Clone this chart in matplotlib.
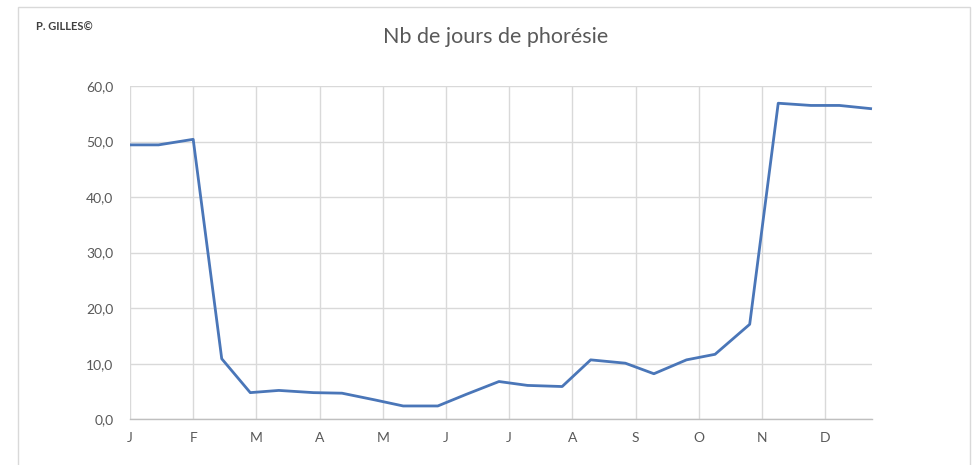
import matplotlib
matplotlib.use("Agg")
import matplotlib.pyplot as plt
from matplotlib.patches import Rectangle
import pandas as pd

# Data
dates = ["2023-01-01", "2023-01-15", "2023-02-01", "2023-02-15", "2023-03-01", "2023-03-15",
         "2023-04-01", "2023-04-15", "2023-05-01", "2023-05-15", "2023-06-01", "2023-06-15",
         "2023-07-01", "2023-07-15", "2023-08-01", "2023-08-15", "2023-09-01", "2023-09-15",
         "2023-10-01", "2023-10-15", "2023-11-01", "2023-11-15", "2023-12-01", "2023-12-15",
         "2023-12-31"]
values = [49.4, 49.4, 50.4, 10.9, 4.8, 5.2,
          4.8, 4.7, 3.5, 2.4, 2.4, 4.5,
          6.8, 6.1, 5.9, 10.7, 10.1, 8.2,
          10.7, 11.7, 17.1, 56.9, 56.5, 56.5,
          55.9]
month_labels = ["J", "F", "M", "A", "M", "J", "J", "A", "S", "O", "N", "D"]
y_ticks = [0, 10, 20, 30, 40, 50, 60]
title = "Nb de jours de phorésie"
author = "P. GILLES©"

plt.rcParams['font.family'] = ['Lato', 'DejaVu Sans']

x = pd.to_datetime(dates)
start = pd.Timestamp("2023-01-01")
end = pd.Timestamp("2023-12-31")
tick_pos = [start + pd.Timedelta(days=31 * i) for i in range(len(month_labels))]

fig = plt.figure(figsize=(9.75, 4.65), dpi=100)
fig.patch.set_facecolor("white")
# outer chart border
fig.patches.append(Rectangle((18 / 975, -0.05), (970 - 18) / 975, (465 - 7) / 465 + 0.05,
                             transform=fig.transFigure, fill=False,
                             edgecolor="#d9d9d9", linewidth=1.0))

ax = fig.add_axes([130 / 975, (465 - 419.3) / 465, 742 / 975, (419.3 - 86) / 465])
ax.plot(x, values, color="#4A76B8", linewidth=2.0, solid_joinstyle="round",
        solid_capstyle="butt", zorder=3, clip_on=False)

ax.set_xlim(start, end)
ax.set_ylim(0, 60)
ax.set_yticks(y_ticks)
ax.set_yticklabels([f"{v:.1f}".replace(".", ",") for v in y_ticks])
ax.set_xticks(tick_pos)
ax.set_xticklabels(month_labels)

ax.grid(True, color="#d9d9d9", linewidth=1.0, zorder=0)
for s in ["top", "right", "left"]:
    ax.spines[s].set_visible(False)
ax.spines["bottom"].set_color("#bfbfbf")
ax.spines["bottom"].set_linewidth(1.0)
ax.tick_params(axis="both", length=0, colors="#595959", labelsize=10)
ax.tick_params(axis="y", pad=12)
ax.tick_params(axis="x", pad=9)

fig.text(496 / 975, 1 - 37 / 465, title, ha="center", va="center",
         fontsize=15.5, color="#595959")
fig.text(36 / 975, 1 - 27 / 465, author, ha="left", va="center",
         fontsize=8, color="#404040", fontweight="bold")

fig.savefig("out.png", dpi=100)
